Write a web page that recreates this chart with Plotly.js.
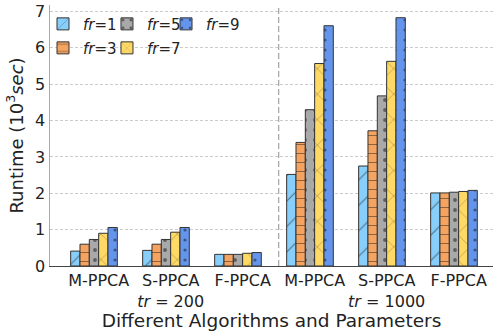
<!DOCTYPE html>
<html>
<head>
<meta charset="utf-8">
<script src="https://cdn.plot.ly/plotly-3.0.1.min.js"></script>
<style>html,body{margin:0;padding:0;background:#fff;}#chart{width:494px;height:331px;}</style>
</head>
<body>
<div id="chart"></div>
<script>
// Data
const groups = [0, 1, 2, 3, 4, 5];
const categories = ["M-PPCA", "S-PPCA", "F-PPCA", "M-PPCA", "S-PPCA", "F-PPCA"];
const tickLabels = ["M-PPCA", "S-PPCA<br><i>tr</i> = 200", "F-PPCA", "M-PPCA", "S-PPCA<br><i>tr</i> = 1000", "F-PPCA"];
const seriesNames = ["<i>fr</i>=1", "<i>fr</i>=3", "<i>fr</i>=5", "<i>fr</i>=7", "<i>fr</i>=9"];
const fr1 = [0.41, 0.43, 0.32, 2.52, 2.75, 2.01];
const fr3 = [0.60, 0.60, 0.32, 3.40, 3.72, 2.01];
const fr5 = [0.73, 0.73, 0.32, 4.30, 4.68, 2.03];
const fr7 = [0.90, 0.93, 0.35, 5.57, 5.63, 2.05];
const fr9 = [1.06, 1.06, 0.37, 6.61, 6.83, 2.08];
const yTicks = [0, 1, 2, 3, 4, 5, 6, 7];

const values = [fr1, fr3, fr5, fr7, fr9];
const colors = ["#87CEFA", "#F4A460", "#A9A9A9", "#FFD966", "#6495ED"];
const patterns = [
  {shape: "/", size: 18, solidity: 0.06},
  {shape: "-", size: 9, solidity: 0.1},
  {shape: ".", size: 10, solidity: 0.12},
  {shape: "x", size: 18, solidity: 0.05},
  {shape: ".", size: 10, solidity: 0.08}
];
const legendIds = ["legend", "legend2", "legend3", "legend4", "legend5"];
// legend placement (matplotlib-style 3 columns, column-major)
const legendX = [-0.0158, -0.0158, 0.1286, 0.1286, 0.2619];
const legendY = [0.99, 0.898, 0.99, 0.898, 0.99];

const traces = values.map((v, i) => ({
  type: "bar",
  x: groups,
  y: v,
  name: seriesNames[i],
  legend: legendIds[i],
  marker: {
    color: colors[i],
    line: {color: "#333", width: 1},
    pattern: Object.assign({fgcolor: "#111", bgcolor: colors[i], fillmode: "overlay"}, patterns[i])
  },
  hoverinfo: "y"
}));

const tickShift = 0.065;
const layout = {
  width: 494, height: 331,
  margin: {l: 50, r: 1, t: 5, b: 65},
  paper_bgcolor: "#fff", plot_bgcolor: "#fff",
  font: {family: "DejaVu Sans", color: "#222", size: 16},
  barmode: "group",
  bargap: 0.352,
  bargroupgap: 0,
  showlegend: true,
  xaxis: {
    range: [-0.611, 5.542],
    tickvals: groups.map(g => g + tickShift),
    ticktext: tickLabels,
    showgrid: false, zeroline: false,
    showline: true, linecolor: "#444", linewidth: 1,
    ticks: "", tickfont: {size: 16},
    title: {text: "Different Algorithms and Parameters", font: {size: 18.5}, standoff: 3}
  },
  yaxis: {
    range: [0, 7.18],
    tickvals: yTicks,
    showgrid: true, gridcolor: "#cccccc", griddash: "3px,2px", gridwidth: 1,
    zeroline: false, showline: true, linecolor: "#aaa", linewidth: 1.5,
    ticks: "", tickfont: {size: 16},
    title: {text: "Runtime (10<sup>3</sup><i>sec</i>)", font: {size: 18}, standoff: 7}
  },
  shapes: [{
    type: "line", xref: "x", yref: "paper",
    x0: 2.5 + tickShift, x1: 2.5 + tickShift, y0: 0, y1: 1,
    line: {color: "#aaa", width: 1.3, dash: "6px,3px"}
  }]
};
legendIds.forEach((id, i) => {
  layout[id] = {
    orientation: "h", x: legendX[i], xanchor: "left", y: legendY[i], yanchor: "top",
    bgcolor: "rgba(0,0,0,0)", font: {size: 15, family: "DejaVu Sans", color: "#222"},
    itemwidth: 30
  };
});

Plotly.newPlot("chart", traces, layout, {displayModeBar: false, staticPlot: true});
</script>
</body>
</html>
